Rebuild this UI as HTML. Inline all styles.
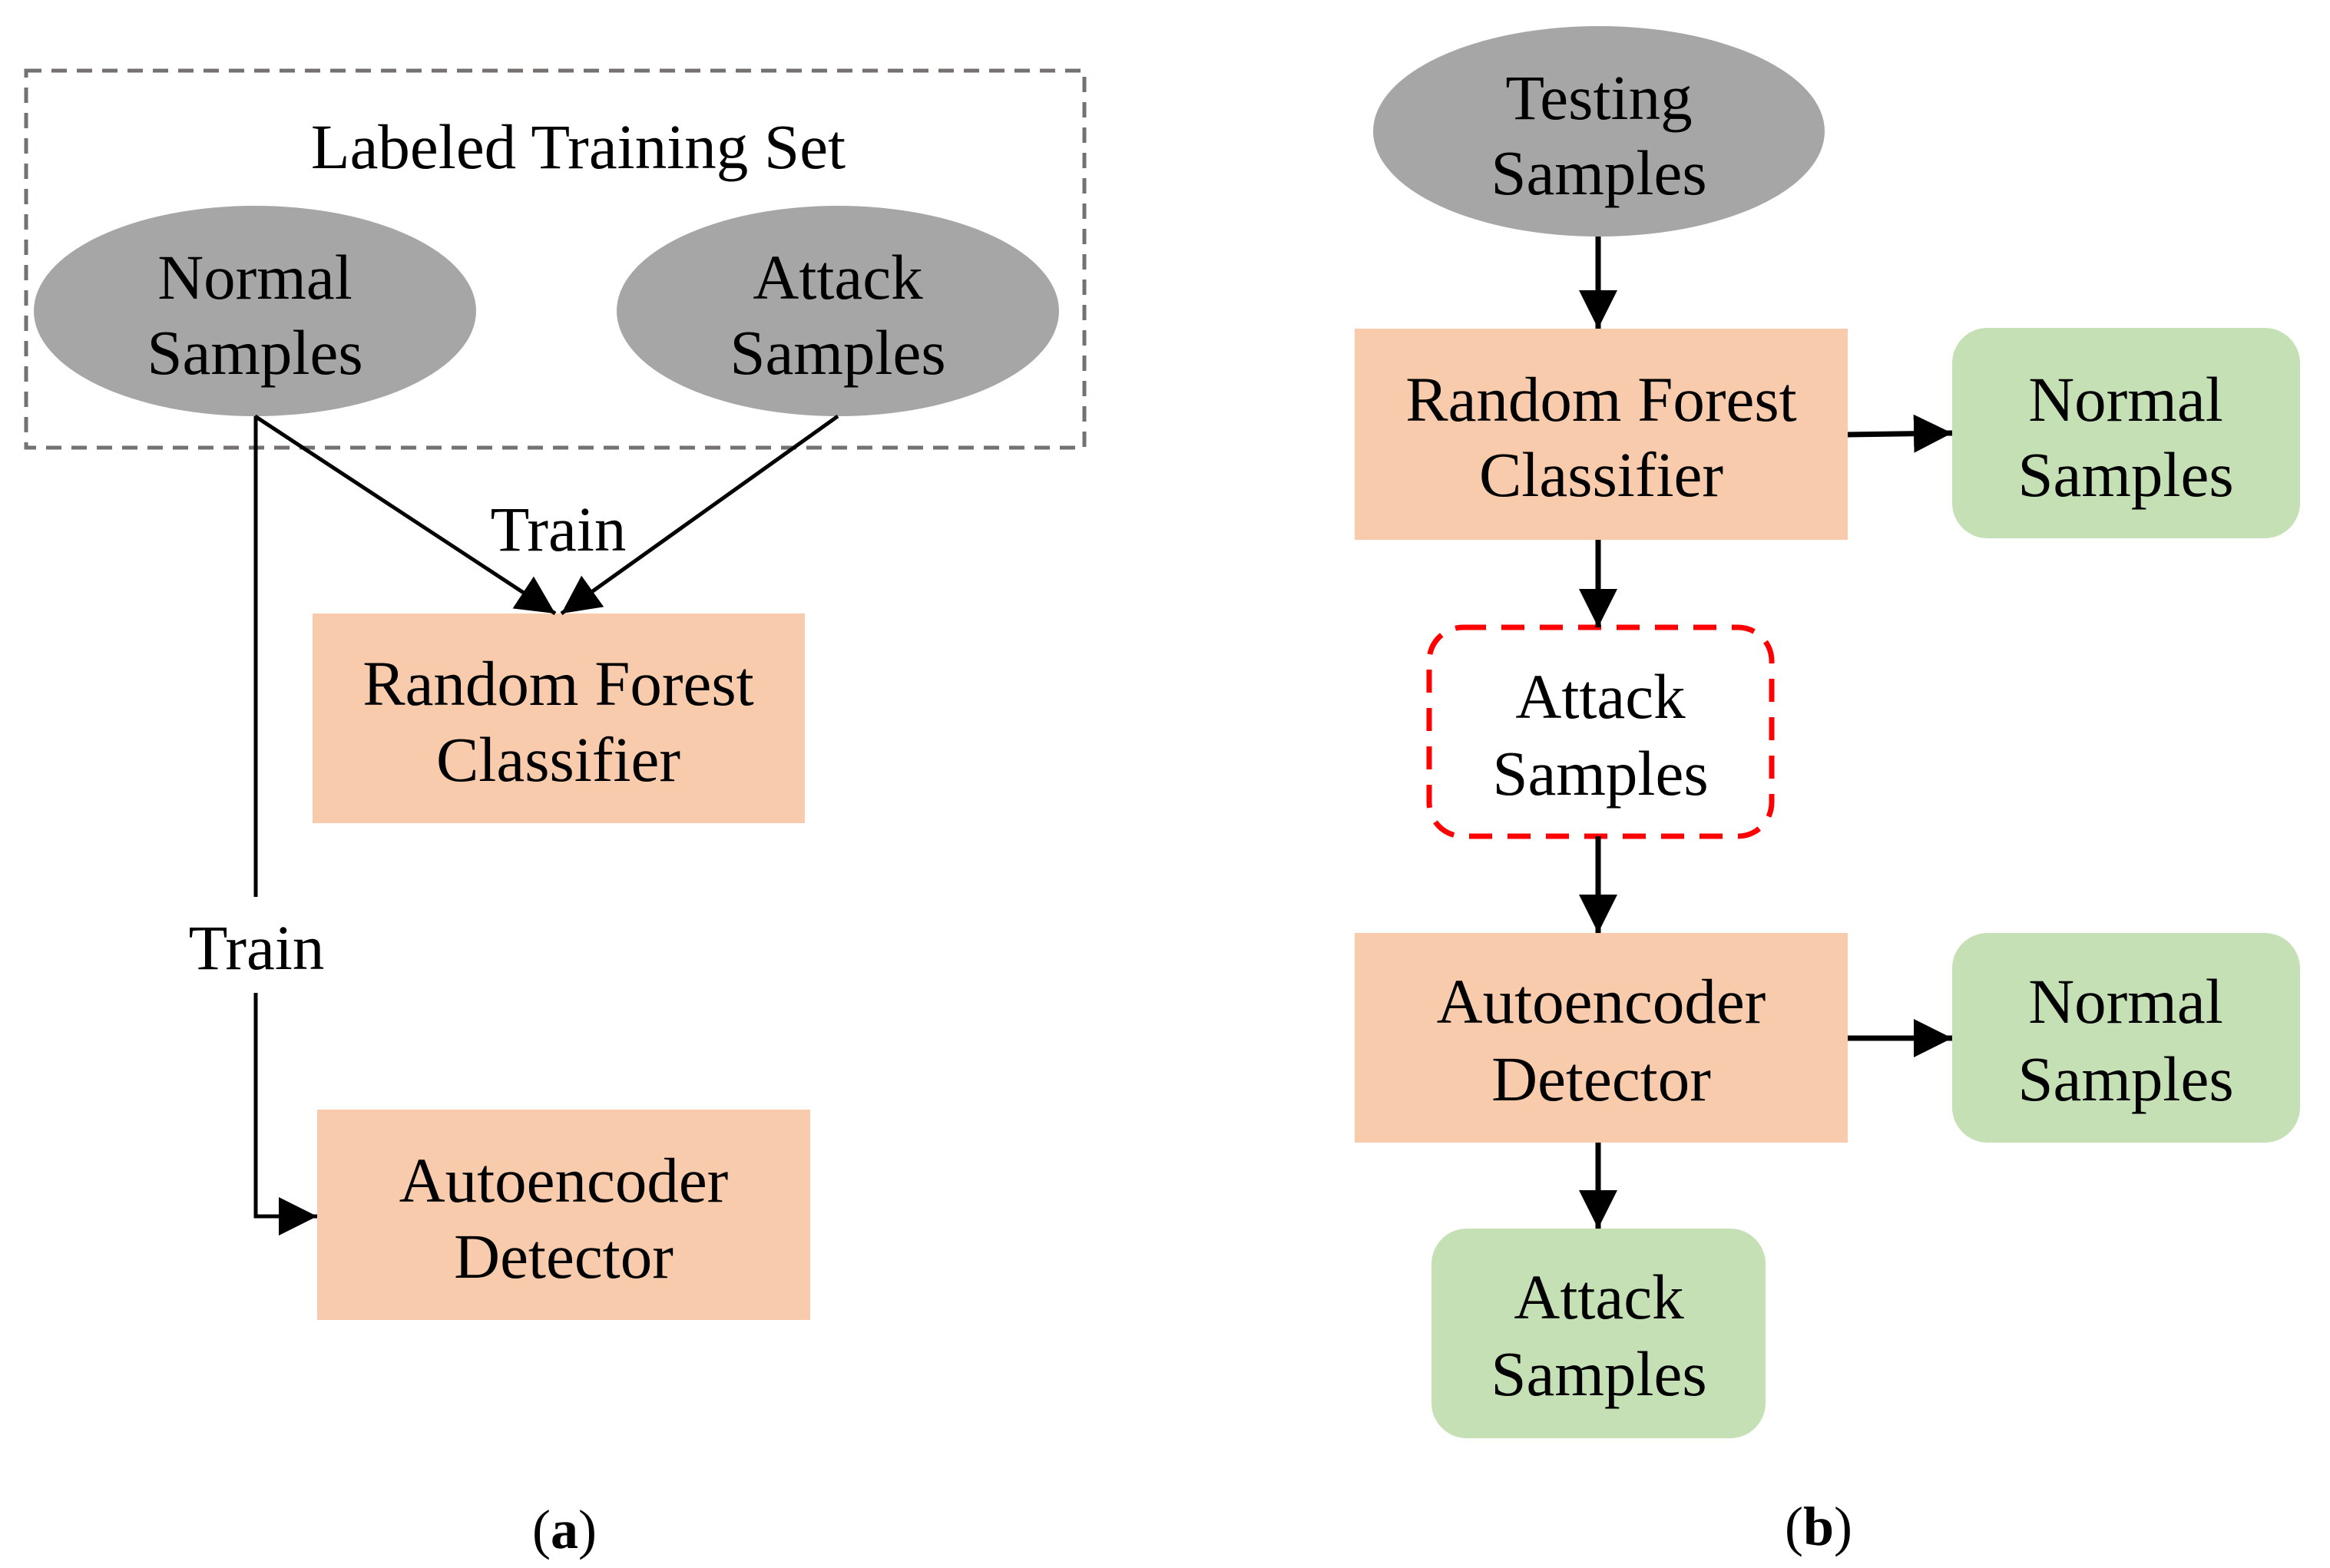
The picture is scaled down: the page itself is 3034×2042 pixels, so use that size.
<!DOCTYPE html>
<html><head><meta charset="utf-8"><style>html,body{margin:0;padding:0;background:#fff}svg{display:block}</style></head>
<body>
<svg width="3034" height="2042" viewBox="0 0 3034 2042" xmlns="http://www.w3.org/2000/svg" font-family="'Liberation Serif', serif" font-size="83" text-anchor="middle" fill="#000">
<defs>
<marker id="ah" markerUnits="userSpaceOnUse" markerWidth="60" markerHeight="60" refX="50" refY="25" orient="auto"><path d="M0,0 L50,25 L0,50 Z" fill="#000"/></marker>
</defs>
<!-- (a) -->
<rect x="34" y="92" width="1378" height="491" fill="none" stroke="#767171" stroke-width="5" stroke-dasharray="20 13"/>
<text x="753" y="219">Labeled Training Set</text>
<ellipse cx="332" cy="405" rx="288" ry="137" fill="#a6a6a6"/>
<text x="332" y="389">Normal</text><text x="332" y="487">Samples</text>
<ellipse cx="1091" cy="405" rx="288" ry="137" fill="#a6a6a6"/>
<text x="1091" y="389">Attack</text><text x="1091" y="487">Samples</text>
<rect x="407" y="799" width="641" height="273" fill="#f8cbad"/>
<text x="727" y="918">Random Forest</text><text x="727" y="1017">Classifier</text>
<rect x="413" y="1445" width="642" height="274" fill="#f8cbad"/>
<text x="734" y="1565">Autoencoder</text><text x="734" y="1664">Detector</text>
<line x1="332" y1="542" x2="723" y2="799" stroke="#000" stroke-width="5" marker-end="url(#ah)"/>
<line x1="1091" y1="542" x2="731" y2="799" stroke="#000" stroke-width="5" marker-end="url(#ah)"/>
<text x="727" y="717">Train</text>
<line x1="333" y1="542" x2="333" y2="1168" stroke="#000" stroke-width="5"/>
<text x="334" y="1262">Train</text>
<polyline points="333,1293 333,1584 413,1584" fill="none" stroke="#000" stroke-width="5" marker-end="url(#ah)"/>
<text x="735" y="2016" font-size="72">(<tspan font-weight="bold">a</tspan>)</text>
<!-- (b) -->
<ellipse cx="2082" cy="171" rx="294" ry="137" fill="#a6a6a6"/>
<text x="2082" y="155">Testing</text><text x="2082" y="253">Samples</text>
<rect x="1764" y="428" width="642" height="275" fill="#f8cbad"/>
<text x="2085" y="548">Random Forest</text><text x="2085" y="646">Classifier</text>
<rect x="2542" y="427" width="453" height="274" rx="46" fill="#c5e0b4"/>
<text x="2768" y="548">Normal</text><text x="2768" y="646">Samples</text>
<rect x="1861" y="817" width="446" height="272" rx="44" fill="none" stroke="#f00" stroke-width="7" stroke-dasharray="30 20"/>
<text x="2084" y="935">Attack</text><text x="2084" y="1035">Samples</text>
<rect x="1764" y="1215" width="642" height="273" fill="#f8cbad"/>
<text x="2085" y="1332">Autoencoder</text><text x="2085" y="1433">Detector</text>
<rect x="2542" y="1215" width="453" height="273" rx="46" fill="#c5e0b4"/>
<text x="2768" y="1332">Normal</text><text x="2768" y="1433">Samples</text>
<rect x="1864" y="1600" width="435" height="273" rx="46" fill="#c5e0b4"/>
<text x="2082" y="1717">Attack</text><text x="2082" y="1817">Samples</text>
<g stroke="#000" stroke-width="7" marker-end="url(#ah)">
<line x1="2081" y1="308" x2="2081" y2="428"/>
<line x1="2406" y1="566" x2="2542" y2="564"/>
<line x1="2081" y1="703" x2="2081" y2="817"/>
<line x1="2081" y1="1089" x2="2081" y2="1215"/>
<line x1="2406" y1="1352" x2="2542" y2="1352"/>
<line x1="2081" y1="1488" x2="2081" y2="1600"/>
</g>
<text x="2368" y="2012" font-size="72">(<tspan font-weight="bold">b</tspan>)</text>
</svg>
</body></html>
